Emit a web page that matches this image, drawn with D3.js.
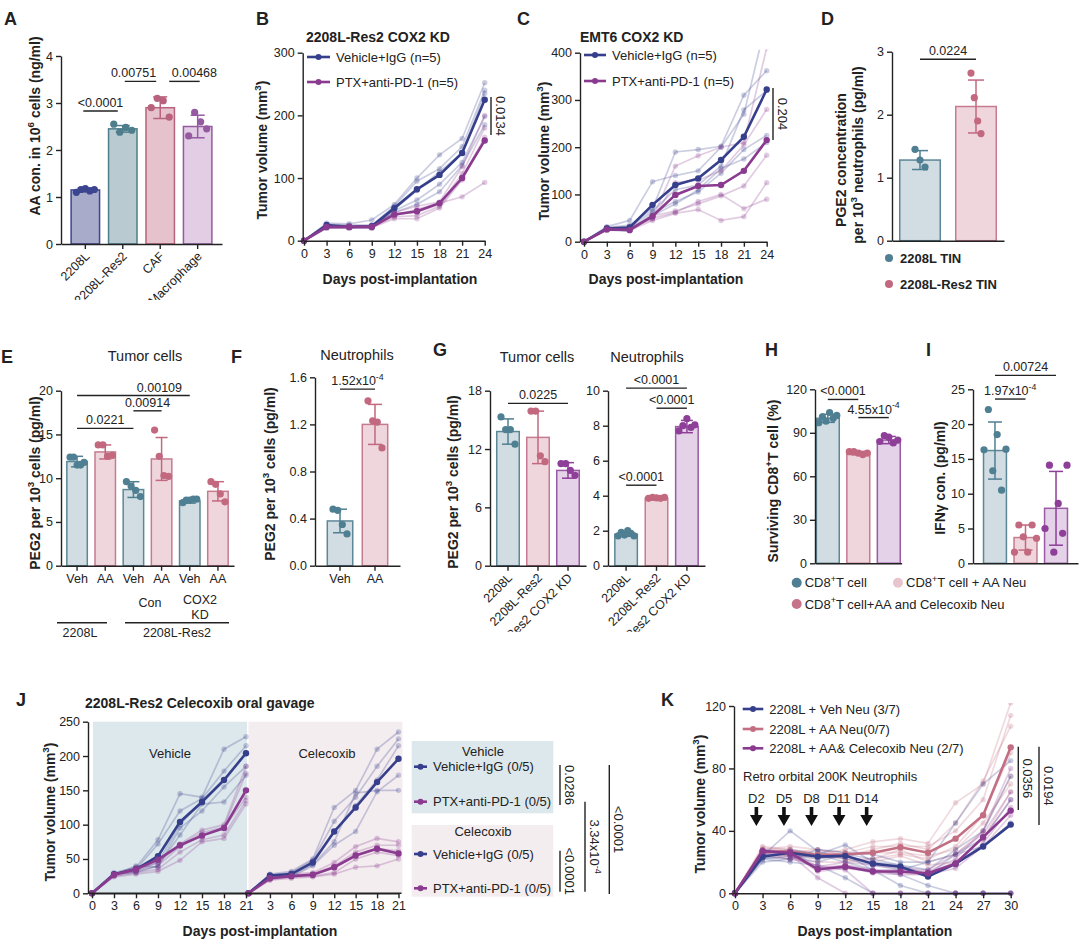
<!DOCTYPE html>
<html>
<head>
<meta charset="utf-8">
<script src="https://cdn.jsdelivr.net/npm/d3@7/dist/d3.min.js"></script>
<style>
  body { margin: 0; background: #fff; }
  svg text { font-family: "Liberation Sans", Arial, sans-serif; fill: #222; }
</style>
</head>
<body>
<svg id="fig" width="1080" height="948"></svg>
<script>
// ---------------- data ----------------
// A
var aCats = ["2208L", "2208L-Res2", "CAF", "Macrophage"];
var aMeans = [1.15, 2.45, 2.9, 2.5];
var aSD = [0.04, 0.07, 0.23, 0.24];
var aPoints = [[1.1, 1.16, 1.18, 1.13, 1.16], [2.55, 2.38, 2.48, 2.42], [2.9, 3.1, 3.05, 2.7], [2.3, 2.8, 2.6, 2.45]];

// B
var days24 = [0, 3, 6, 9, 12, 15, 18, 21, 24];
var bVehMean = [0, 25, 22, 23, 52, 82, 105, 140, 225];
var bPtxMean = [0, 22, 22, 22, 42, 47, 60, 100, 160];
var bVehInd = [
  [0, 28, 27, 33, 58, 100, 137, 163, 252],
  [0, 26, 25, 25, 55, 95, 115, 150, 240],
  [0, 24, 22, 22, 50, 80, 110, 140, 235],
  [0, 22, 20, 20, 48, 65, 90, 125, 198],
  [0, 20, 22, 24, 45, 58, 78, 120, 185]
];
var bPtxInd = [
  [0, 24, 24, 24, 45, 55, 62, 118, 200],
  [0, 22, 22, 20, 42, 45, 58, 107, 180],
  [0, 21, 21, 22, 38, 40, 55, 100, 165],
  [0, 23, 22, 21, 35, 35, 52, 97, 160],
  [0, 20, 20, 22, 40, 50, 60, 70, 93]
];

// C
var cVehMean = [0, 28, 30, 78, 120, 134, 173, 222, 322];
var cPtxMean = [0, 26, 25, 54, 99, 118, 120, 150, 215];
var cVehInd = [
  [0, 32, 45, 127, 140, 150, 200, 270, 470],
  [0, 30, 35, 70, 190, 195, 202, 310, 362],
  [0, 28, 30, 65, 110, 120, 160, 279, 320],
  [0, 26, 25, 60, 85, 105, 145, 195, 225],
  [0, 25, 22, 55, 80, 110, 155, 175, 210]
];
var cPtxInd = [
  [0, 30, 32, 50, 160, 182, 200, 210, 410],
  [0, 28, 28, 48, 125, 130, 150, 205, 280],
  [0, 26, 26, 55, 65, 80, 97, 118, 183],
  [0, 25, 24, 45, 60, 68, 45, 53, 125],
  [0, 27, 28, 50, 62, 85, 100, 70, 90]
];

// D
var dCats = ["2208L TIN", "2208L-Res2 TIN"];
var dMeans = [1.28, 2.13];
var dSD = [0.15, 0.42];
var dPoints = [[1.45, 1.28, 1.17], [2.66, 2.27, 1.9, 1.7]];

// E
var eLabels = ["Veh", "AA", "Veh", "AA", "Veh", "AA"];
var eMeans = [11.9, 13.0, 8.7, 12.2, 7.4, 8.5];
var eSD = [0.6, 0.8, 0.9, 2.45, 0.25, 1.1];
var ePoints = [[12.4, 12.4, 11.5, 11.5, 11.8], [13.8, 13.8, 12.5, 12.6], [9.6, 9.1, 8.6, 7.9], [15.5, 12.5, 10.3, 10.2], [7.2, 7.5, 7.5, 7.6, 7.6], [9.6, 9.3, 8.2, 7.3]];

// F
var fLabels = ["Veh", "AA"];
var fMeans = [0.38, 1.2];
var fSD = [0.1, 0.17];
var fPoints = [[0.48, 0.47, 0.35, 0.27], [1.4, 1.23, 1.22, 1.0]];

// G
var gLabels = ["2208L", "2208L-Res2", "2208L-Res2 COX2 KD"];
var gTumMeans = [13.8, 13.2, 9.8];
var gTumSD = [1.3, 2.7, 0.8];
var gTumPoints = [[15.3, 14.0, 14.0, 12.5], [15.9, 15.9, 11.3, 10.7], [10.5, 10.5, 9.8, 9.3]];
var gNeuMeans = [1.8, 3.85, 7.95];
var gNeuSD = [0.12, 0.05, 0.35];
var gNeuPoints = [[1.7, 1.9, 1.75, 2.0, 1.85, 1.7], [3.85, 3.9, 3.88, 3.85, 3.9], [7.7, 8.0, 8.4, 7.9, 8.05]];

// H, I
var hMeans = [100, 76, 85];
var hSD = [2.8, 1.2, 2.5];
var hPoints = [[97, 101, 98, 104, 100, 102], [77, 77, 76, 75, 76], [84, 88, 87, 83, 85]];
var iMeans = [16.2, 3.7, 7.9];
var iSD = [4.1, 1.8, 5.3];
var iPoints = [[16.3, 22.1, 13.3, 18.5, 10.5, 16.4], [1.6, 5.5, 3.8, 1.6, 5.5, 3.6], [5.0, 14.1, 1.6, 8.6, 4.3, 14.1]];
var hiLegend = ["CD8", "CD8", "CD8"];

// J
var days21 = [0, 3, 6, 9, 12, 15, 18, 21];
var jVehIgGMean = [0, 28, 35, 54, 104, 133, 165, 204];
var jVehPtxMean = [0, 27, 35, 49, 70, 84, 95, 150];
var jCelIgGMean = [0, 26, 28, 45, 90, 125, 162, 196];
var jCelPtxMean = [0, 22, 25, 27, 38, 55, 65, 58];
var jVehIgGInd = [
  [0, 30, 38, 78, 145, 140, 210, 228],
  [0, 28, 35, 72, 120, 138, 178, 215],
  [0, 26, 32, 45, 100, 135, 165, 205],
  [0, 27, 40, 38, 95, 120, 155, 185],
  [0, 29, 30, 40, 85, 130, 133, 172]
];
var jVehPtxInd = [
  [0, 28, 38, 48, 72, 92, 100, 185],
  [0, 26, 35, 45, 70, 88, 97, 175],
  [0, 27, 32, 40, 68, 85, 95, 140],
  [0, 25, 30, 35, 60, 78, 85, 135],
  [0, 24, 28, 32, 48, 75, 80, 130]
];
var jCelIgGInd = [
  [0, 28, 32, 50, 125, 150, 210, 235],
  [0, 26, 30, 48, 105, 140, 185, 225],
  [0, 24, 28, 45, 90, 128, 165, 215],
  [0, 25, 26, 42, 75, 146, 150, 150],
  [0, 23, 24, 40, 70, 90, 148, 172]
];
var jCelPtxInd = [
  [0, 24, 28, 30, 45, 68, 80, 75],
  [0, 22, 26, 28, 40, 60, 70, 70],
  [0, 21, 25, 27, 38, 55, 65, 62],
  [0, 20, 24, 25, 30, 50, 60, 55],
  [0, 19, 22, 24, 28, 38, 40, 50]
];

// K
var days30 = [0, 3, 6, 9, 12, 15, 18, 21, 24, 27, 30];
var kVehMean = [0, 23.5, 26, 23.5, 24, 19, 17, 10.7, 19, 30, 44];
var kAAMean = [0, 26.7, 26.7, 24.5, 25, 26, 29.5, 26, 35, 50, 93.5];
var kCelMean = [0, 27, 26, 15.4, 17, 14, 14, 12.8, 19, 36, 53];
var kVehInd = [
  [0, 24, 40, 27, 22, 18, 15, 20, 45, 70, 85],
  [0, 22, 24, 20, 25, 22, 18, 12, 25, 35, 60],
  [0, 20, 22, 25, 20, 15, 5, 0, 0, 0, 0],
  [0, 25, 28, 25, 31, 20, 18, 15, 28, 40, 75],
  [0, 22, 20, 18, 10, 0, 0, 0, 0, 0, 0],
  [0, 28, 25, 22, 25, 15, 12, 5, 0, 0, 0],
  [0, 23, 22, 28, 26, 25, 20, 20, 25, 30, 45]
];
var kAAInd = [
  [0, 30, 28, 25, 28, 33, 35, 32, 58, 70, 122],
  [0, 28, 30, 28, 26, 30, 30, 30, 40, 60, 114],
  [0, 25, 24, 22, 24, 28, 32, 28, 45, 72, 107],
  [0, 26, 24, 24, 22, 22, 25, 22, 30, 50, 90],
  [0, 24, 22, 20, 20, 22, 28, 20, 25, 40, 75],
  [0, 27, 26, 28, 24, 26, 26, 24, 28, 45, 70],
  [0, 29, 28, 26, 22, 20, 24, 18, 20, 35, 65]
];
var kCelInd = [
  [0, 27, 25, 10, 0, 0, 0, 0, 0, 0, 0],
  [0, 25, 22, 18, 15, 0, 0, 0, 0, 0, 0],
  [0, 26, 25, 15, 18, 15, 15, 14, 22, 40, 80],
  [0, 28, 27, 17, 20, 18, 16, 15, 25, 38, 65],
  [0, 24, 26, 14, 16, 14, 13, 12, 18, 32, 55],
  [0, 25, 24, 16, 18, 14, 14, 13, 20, 35, 60],
  [0, 27, 26, 15, 17, 13, 12, 12, 16, 30, 50]
];
var kDoseDays = [2, 5, 8, 11, 14];

// ---------------- colours ----------------
var INK = "#222";
var NAVY = "#363f8b", PLUM = "#8a3b8f", ROSE = "#c36f83";
var TEAL = { fill: "#d1dde2", stroke: "#5c8797", dot: "#4f7f92" };
var PINK = { fill: "#efd6dd", stroke: "#c67b90", dot: "#c2687f" };
var PURP = { fill: "#e4d2e8", stroke: "#9c5aa6", dot: "#8e3f98" };

var svg = d3.select("#fig");

// ---------------- helpers ----------------
function rich(t, parts, fs) {
  var shift = 0;
  parts.forEach(function (p) {
    var s = p[1] ? -fs * 0.42 : 0;
    t.append("tspan").attr("dy", s - shift).attr("font-size", p[1] ? fs * 0.7 : fs).text(p[0]);
    shift = s;
  });
  return t;
}

function txt(x, y, parts, fs, opt) {
  opt = opt || {};
  var t = svg.append("text").attr("x", x).attr("y", y).attr("font-size", fs)
    .attr("text-anchor", opt.anchor || "middle")
    .attr("font-weight", opt.bold ? "bold" : null);
  if (opt.rot) t.attr("transform", "rotate(" + opt.rot + "," + x + "," + y + ")");
  if (typeof parts === "string") t.text(parts); else rich(t, parts, fs);
  return t;
}

function styleAxis(g, fs) {
  g.selectAll(".domain, .tick line").attr("stroke", INK).attr("stroke-width", 1.4);
  g.selectAll(".tick text").attr("font-size", fs || 12.5);
  return g;
}

function hBracket(x1, x2, yy, label, tdx) {
  svg.append("line").attr("x1", x1).attr("x2", x2).attr("y1", yy).attr("y2", yy)
    .attr("stroke", INK).attr("stroke-width", 1.4);
  txt((x1 + x2) / 2 + (tdx || 0), yy - 4, label, 12.5);
}

function vBracket(xx, y1, y2, label) {
  svg.append("line").attr("x1", xx).attr("x2", xx).attr("y1", y1).attr("y2", y2)
    .attr("stroke", INK).attr("stroke-width", 1.4);
  txt(xx + 5, (y1 + y2) / 2, label, 13, { rot: 90 });
}

function legendLine(x1, x2, yy, color, label) {
  svg.append("line").attr("x1", x1).attr("x2", x2).attr("y1", yy).attr("y2", yy)
    .attr("stroke", color).attr("stroke-width", 2.6);
  svg.append("circle").attr("cx", (x1 + x2) / 2).attr("cy", yy).attr("r", 3).attr("fill", color);
  txt(x2 + 6, yy + 4.5, label, 13, { anchor: "start" });
}

function barPanel(o) {
  var idx = d3.range(o.means.length);
  var x = d3.scaleBand().domain(idx).range(o.xr).paddingInner(o.pi).paddingOuter(o.po);
  var y = d3.scaleLinear().domain(o.yd).range(o.yr);
  var bw = x.bandwidth();
  var cx = function (i) { return x(i) + bw / 2; };
  var g = svg.append("g");

  g.selectAll(null).data(o.means).enter().append("rect")
    .attr("x", function (d, i) { return x(i) + 0.75; })
    .attr("width", bw - 1.5)
    .attr("y", function (d) { return y(d); })
    .attr("height", function (d) { return y(0) - y(d); })
    .attr("fill", function (d, i) { return o.col[i].fill; })
    .attr("stroke", function (d, i) { return o.col[i].stroke; })
    .attr("stroke-width", 1.5);

  o.pts.forEach(function (arr, i) {
    var n = arr.length;
    g.selectAll(null).data(arr).enter().append("circle")
      .attr("cx", function (d, k) { return cx(i) + (n > 1 ? (k - (n - 1) / 2) / ((n - 1) / 2) * o.jit : 0); })
      .attr("cy", function (d) { return y(d); })
      .attr("r", 3.6)
      .attr("fill", o.col[i].dot);
  });

  o.means.forEach(function (m, i) {
    var c = o.col[i].dot, w = o.cap || 6, s = o.sd[i];
    g.append("line").attr("x1", cx(i)).attr("x2", cx(i)).attr("y1", y(m - s)).attr("y2", y(m + s))
      .attr("stroke", c).attr("stroke-width", 1.5);
    [m - s, m + s].forEach(function (v) {
      g.append("line").attr("x1", cx(i) - w).attr("x2", cx(i) + w).attr("y1", y(v)).attr("y2", y(v))
        .attr("stroke", c).attr("stroke-width", 1.5);
    });
  });

  var ya = g.append("g").attr("transform", "translate(" + o.xr[0] + ",0)")
    .call(d3.axisLeft(y).tickValues(o.ticks).tickSize(5).tickSizeOuter(0).tickFormat(o.fmt || d3.format("d")));
  styleAxis(ya);
  var xa = g.append("g").attr("transform", "translate(0," + o.yr[0] + ")")
    .call(d3.axisBottom(x).tickSize(o.labels ? 5 : 0).tickSizeOuter(0)
      .tickFormat(function (i) { return o.labels ? o.labels[i] : ""; }));
  styleAxis(xa);
  if (o.rotate) {
    xa.selectAll(".tick text").attr("y", 0).attr("dy", 0)
      .attr("transform", "translate(5,13) rotate(-45)").attr("text-anchor", "end");
    if (o.clip) {
      // clip box is in the axis group's own (translated) coordinates
      svg.append("clipPath").attr("id", o.clip.id).append("rect")
        .attr("x", o.clip.x).attr("y", -2).attr("width", 400).attr("height", o.clip.h + 2);
      xa.attr("clip-path", "url(#" + o.clip.id + ")");
    }
  }
  (o.br || []).forEach(function (b) {
    hBracket(cx(b[0]) + (b[4] || 0), cx(b[1]) + (b[5] || 0), y(b[2]), b[3], b[6]);
  });
  return { x: x, y: y, cx: cx };
}

function drawSeries(g, x, y, days, groups) {
  var line = d3.line().x(function (d, i) { return x(days[i]); }).y(function (d) { return y(d); });
  groups.forEach(function (gr) {
    gr.ind.forEach(function (s) {
      g.append("path").attr("d", line(s)).attr("fill", "none").attr("stroke", gr.color)
        .attr("stroke-opacity", 0.26).attr("stroke-width", 1.7);
      g.selectAll(null).data(s).enter().append("circle")
        .attr("cx", function (d, i) { return x(days[i]); }).attr("cy", function (d) { return y(d); })
        .attr("r", 2.7).attr("fill", gr.color).attr("fill-opacity", 0.26);
    });
  });
  groups.forEach(function (gr) {
    g.append("path").attr("d", line(gr.mean)).attr("fill", "none").attr("stroke", gr.color).attr("stroke-width", 2.6);
    g.selectAll(null).data(gr.mean).enter().append("circle")
      .attr("cx", function (d, i) { return x(days[i]); }).attr("cy", function (d) { return y(d); })
      .attr("r", 3.2).attr("fill", gr.color);
  });
}

function linePanel(o) {
  var x = d3.scaleLinear().domain(o.xd).range(o.xr);
  var y = d3.scaleLinear().domain(o.yd).range(o.yr);
  svg.append("clipPath").attr("id", o.id).append("rect")
    .attr("x", o.xr[0] - 6).attr("y", o.yr[1] - 3).attr("width", o.xr[1] - o.xr[0] + 12).attr("height", o.yr[0] - o.yr[1] + 9);
  var plot = svg.append("g").attr("clip-path", "url(#" + o.id + ")");
  drawSeries(plot, x, y, o.days, o.groups);
  var ya = svg.append("g").attr("transform", "translate(" + o.yax + ",0)")
    .call(d3.axisLeft(y).tickValues(o.yticks).tickSize(5).tickSizeOuter(0));
  styleAxis(ya);
  var xa = svg.append("g").attr("transform", "translate(0," + o.yr[0] + ")")
    .call(d3.axisBottom(x).tickValues(o.days).tickSize(5).tickSizeOuter(0));
  styleAxis(xa);
  return { x: x, y: y };
}

// ---------------- panel letters ----------------
[["A", 4, 25], ["B", 256, 25], ["C", 517, 25], ["D", 821, 25],
 ["E", 1, 363], ["F", 231, 363], ["G", 433, 356], ["H", 765, 356], ["I", 926, 356],
 ["J", 16, 706], ["K", 661, 706]].forEach(function (l) {
  txt(l[1], l[2], l[0], 18, { anchor: "start", bold: true });
});

// ---------------- A ----------------
barPanel({
  means: aMeans, sd: aSD, pts: aPoints, labels: aCats, rotate: true,
  clip: { id: "clipA", x: 60, h: 56 },
  xr: [61, 222], pi: 0.2, po: 0.25, yd: [0, 4], yr: [244, 56], ticks: [0, 1, 2, 3, 4], jit: 9, cap: 7,
  col: [{ fill: "#a9abcb", stroke: "#3c4590", dot: "#3c4590" },
        { fill: "#b9cbd1", stroke: "#4e7d8c", dot: "#4e7d8c" },
        { fill: "#e6c3cc", stroke: "#b8627d", dot: "#b8627d" },
        { fill: "#e3cde5", stroke: "#955aa0", dot: "#955aa0" }],
  br: [[0, 1, 2.83, "<0.0001", -2, -5, 0], [1, 2, 3.46, "0.00751", 2, -4, -7], [2, 3, 3.46, "0.00468", 9, 2, 10]]
});
txt(40, 126, [["AA con. in 10"], ["6", 1], [" cells (ng/ml)"]], 14, { rot: -90, bold: true });

// ---------------- B ----------------
linePanel({
  id: "clipB", xd: [0, 24], xr: [304, 484.7], yd: [0, 300], yr: [240.7, 52.7], yax: 302.7,
  yticks: [0, 100, 200, 300], days: days24,
  groups: [{ color: NAVY, mean: bVehMean, ind: bVehInd }, { color: PLUM, mean: bPtxMean, ind: bPtxInd }]
});
txt(378, 42, "2208L-Res2 COX2 KD", 14, { bold: true });
legendLine(307, 330, 57, NAVY, "Vehicle+IgG (n=5)");
legendLine(307, 330, 82, PLUM, "PTX+anti-PD-1 (n=5)");
vBracket(491, 97, 135, "0.0134");
txt(267, 150, [["Tumor volume (mm"], ["3", 1], [")"]], 14, { rot: -90, bold: true });
txt(400, 284, "Days post-implantation", 14, { bold: true });

// ---------------- C ----------------
linePanel({
  id: "clipC", xd: [0, 24], xr: [584, 766.7], yd: [0, 400], yr: [241.7, 52.7], yax: 580,
  yticks: [0, 100, 200, 300, 400], days: days24,
  groups: [{ color: NAVY, mean: cVehMean, ind: cVehInd }, { color: PLUM, mean: cPtxMean, ind: cPtxInd }]
});
txt(580, 42, "EMT6 COX2 KD", 14, { bold: true, anchor: "start" });
legendLine(584, 606, 55, NAVY, "Vehicle+IgG (n=5)");
legendLine(584, 606, 81, PLUM, "PTX+anti-PD-1 (n=5)");
vBracket(773, 88, 140, "0.204");
txt(549, 151, [["Tumor volume (mm"], ["3", 1], [")"]], 14, { rot: -90, bold: true });
txt(666, 284, "Days post-implantation", 14, { bold: true });

// ---------------- D ----------------
barPanel({
  means: dMeans, sd: dSD, pts: dPoints,
  xr: [892, 1004], pi: 0.25, po: 0.125, yd: [0, 3], yr: [240.7, 51.7], ticks: [0, 1, 2, 3], jit: 5, cap: 8,
  col: [TEAL, PINK], br: [[0, 1, 2.88, "0.0224"]]
});
txt(846, 160, "PGE2 concentration", 14, { rot: -90, bold: true });
txt(863, 155, [["per 10"], ["3", 1], [" neutrophils (pg/ml)"]], 14, { rot: -90, bold: true });
[[dCats[0], TEAL.dot, 258], [dCats[1], PINK.dot, 284]].forEach(function (l) {
  svg.append("circle").attr("cx", 889).attr("cy", l[2]).attr("r", 4).attr("fill", l[1]);
  txt(900, l[2] + 5, l[0], 13, { anchor: "start", bold: true });
});

// ---------------- E ----------------
barPanel({
  means: eMeans, sd: eSD, pts: ePoints, labels: eLabels,
  xr: [61, 234], pi: 0.22, po: 0.18, yd: [0, 20], yr: [565.7, 390.7], ticks: [0, 5, 10, 15, 20], jit: 7, cap: 6,
  col: [TEAL, PINK, TEAL, PINK, TEAL, PINK],
  br: [[0, 2, 15.7, "0.0221"], [2, 3, 17.7, "0.00914"], [0, 4, 19.45, "0.00109", 0, 0, 26]]
});
txt(145, 361, "Tumor cells", 14.5);
txt(150, 607, "Con", 12.5);
txt(200, 604, "COX2", 12.5);
txt(200, 619, "KD", 12.5);
[[57, 107, 80, "2208L"], [125, 229, 177, "2208L-Res2"]].forEach(function (l) {
  svg.append("line").attr("x1", l[0]).attr("x2", l[1]).attr("y1", 622.7).attr("y2", 622.7)
    .attr("stroke", INK).attr("stroke-width", 1.4);
  txt(l[2], 637, l[3], 12.5);
});
txt(40, 483, [["PEG2 per 10"], ["3", 1], [" cells (pg/ml)"]], 14, { rot: -90, bold: true });

// ---------------- F ----------------
barPanel({
  means: fMeans, sd: fSD, pts: fPoints, labels: fLabels,
  xr: [315, 400], pi: 0.23, po: 0.33, yd: [0, 1.6], yr: [565.7, 377.3], ticks: [0, 0.4, 0.8, 1.2, 1.6],
  fmt: d3.format(".1f"), jit: 7, cap: 7, col: [TEAL, PINK],
  br: [[0, 1, 1.5, [["1.52x10"], ["-4", 1]]]]
});
txt(357, 360, "Neutrophils", 14.5);
txt(275, 474, [["PEG2 per 10"], ["3", 1], [" cells (pg/ml)"]], 14, { rot: -90, bold: true });

// ---------------- G ----------------
barPanel({
  means: gTumMeans, sd: gTumSD, pts: gTumPoints, labels: gLabels, rotate: true,
  clip: { id: "clipG1", x: 436, h: 66 },
  xr: [490, 586], pi: 0.2, po: 0.2, yd: [0, 18], yr: [565.7, 390.7], ticks: [0, 6, 12, 18], jit: 7, cap: 6,
  col: [TEAL, PINK, PURP], br: [[0, 2, 16.7, "0.0225"]]
});
barPanel({
  means: gNeuMeans, sd: gNeuSD, pts: gNeuPoints, labels: gLabels, rotate: true,
  clip: { id: "clipG2", x: 556, h: 66 },
  xr: [608, 705], pi: 0.21, po: 0.2, yd: [0, 10], yr: [565.7, 390.7], ticks: [0, 2, 4, 6, 8, 10], jit: 8, cap: 6,
  col: [TEAL, PINK, PURP],
  br: [[0, 1, 4.6, "<0.0001"], [1, 2, 9.0, "<0.0001"], [0, 2, 10.15, "<0.0001"]]
});
txt(537, 362, "Tumor cells", 14.5);
txt(647, 362, "Neutrophils", 14.5);
txt(458, 482, [["PEG2 per 10"], ["3", 1], [" cells (pg/ml)"]], 14, { rot: -90, bold: true });

// ---------------- H ----------------
barPanel({
  means: hMeans, sd: hSD, pts: hPoints,
  xr: [815, 901.6], pi: 0.2, po: 0.02, yd: [0, 120], yr: [563.3, 389.3], ticks: [0, 30, 60, 90, 120], jit: 9, cap: 7,
  col: [TEAL, PINK, PURP],
  br: [[0, 1, 113, "<0.0001"], [1, 2, 100.5, [["4.55x10"], ["-4", 1]]]]
});
txt(778, 481, [["Surviving CD8"], ["+", 1], ["T cell (%)"]], 14, { rot: -90, bold: true });

// ---------------- I ----------------
barPanel({
  means: iMeans, sd: iSD, pts: iPoints,
  xr: [973, 1078], pi: 0.2, po: 0.32, yd: [0, 25], yr: [563.3, 389.3], ticks: [0, 5, 10, 15, 20, 25], jit: 11, cap: 7,
  col: [TEAL, PINK, PURP],
  br: [[0, 1, 23.6, [["1.97x10"], ["-4", 1]]], [0, 2, 27, "0.00724"]]
});
txt(945, 478, "IFN\u03b3 con. (pg/ml)", 14, { rot: -90, bold: true });

// H / I legend
[[796.7, 582.7, "#4f7f92", [[hiLegend[0]], ["+", 1], ["T cell"]]],
 [898, 582.7, "#e8c4cd", [[hiLegend[1]], ["+", 1], ["T cell + AA Neu"]]],
 [796.7, 604, "#c5738a", [[hiLegend[2]], ["+", 1], ["T cell+AA and Celecoxib Neu"]]]].forEach(function (l) {
  svg.append("circle").attr("cx", l[0]).attr("cy", l[1]).attr("r", 5).attr("fill", l[2]);
  txt(l[0] + 8, l[1] + 4.5, l[3], 13, { anchor: "start" });
});

// ---------------- J ----------------
var jy = d3.scaleLinear().domain([0, 250]).range([893.3, 721.7]);
var jxV = d3.scaleLinear().domain([0, 21]).range([92, 246]);
var jxC = d3.scaleLinear().domain([0, 21]).range([248.5, 398.5]);
svg.append("rect").attr("x", jxV(0) + 1).attr("y", jy(250)).attr("width", jxV(21) - jxV(0))
  .attr("height", jy(0) - jy(250)).attr("fill", "#dde8ec");
svg.append("rect").attr("x", jxC(0)).attr("y", jy(250)).attr("width", jxC(21) - jxC(0) + 4)
  .attr("height", jy(0) - jy(250)).attr("fill", "#f4edf0");
txt(170, 758, "Vehicle", 13);
txt(327, 758, "Celecoxib", 13);
var jg = svg.append("g");
drawSeries(jg, jxV, jy, days21, [{ color: NAVY, mean: jVehIgGMean, ind: jVehIgGInd }, { color: PLUM, mean: jVehPtxMean, ind: jVehPtxInd }]);
drawSeries(jg, jxC, jy, days21, [{ color: NAVY, mean: jCelIgGMean, ind: jCelIgGInd }, { color: PLUM, mean: jCelPtxMean, ind: jCelPtxInd }]);
styleAxis(svg.append("g").attr("transform", "translate(88,0)")
  .call(d3.axisLeft(jy).tickValues([0, 50, 100, 150, 200, 250]).tickSize(5).tickSizeOuter(0)));
var jxa1 = svg.append("g").attr("transform", "translate(0," + jy(0) + ")")
  .call(d3.axisBottom(jxV).tickValues(days21).tickSize(5).tickSizeOuter(0));
var jxa2 = svg.append("g").attr("transform", "translate(0," + jy(0) + ")")
  .call(d3.axisBottom(jxC).tickValues(days21.slice(1)).tickSize(5).tickSizeOuter(0));
styleAxis(jxa1); styleAxis(jxa2);
svg.append("line").attr("x1", 88).attr("x2", jxC(21) + 3).attr("y1", jy(0)).attr("y2", jy(0))
  .attr("stroke", INK).attr("stroke-width", 1.4);
txt(85, 708, "2208L-Res2 Celecoxib oral gavage", 14, { bold: true, anchor: "start" });
txt(55, 812, [["Tumor volume (mm"], ["3", 1], [")"]], 14, { rot: -90, bold: true });
txt(260, 936, "Days post-implantation", 14, { bold: true });

// J legend boxes
svg.append("rect").attr("x", 411.7).attr("y", 741).attr("width", 141.6).attr("height", 72.3).attr("fill", "#dde8ec");
svg.append("rect").attr("x", 411.7).attr("y", 825).attr("width", 141.6).attr("height", 71.7).attr("fill", "#f4edf0");
txt(483, 756, "Vehicle", 13);
txt(483, 836, "Celecoxib", 13);
legendLine(414, 427, 766.7, NAVY, "Vehicle+IgG (0/5)");
legendLine(414, 427, 801.7, PLUM, "PTX+anti-PD-1 (0/5)");
legendLine(414, 427, 854, NAVY, "Vehicle+IgG (0/5)");
legendLine(414, 427, 888.3, PLUM, "PTX+anti-PD-1 (0/5)");
vBracket(560, 765, 805, "0.0286");
vBracket(560, 850.7, 891.7, "<0.0001");
vBracket(585, 801.7, 891.7, [["3.34x10"], ["-4", 1]]);
vBracket(609.3, 765, 894, "<0.0001");

// ---------------- K ----------------
var kp = linePanel({
  id: "clipK", xd: [0, 30], xr: [735, 1010.7], yd: [0, 120], yr: [893.3, 706], yax: 734,
  yticks: [0, 40, 80, 120], days: days30,
  groups: [{ color: ROSE, mean: kAAMean, ind: kAAInd },
           { color: NAVY, mean: kVehMean, ind: kVehInd },
           { color: PLUM, mean: kCelMean, ind: kCelInd }]
});
legendLine(742.7, 763.3, 709, NAVY, "2208L + Veh Neu (3/7)");
legendLine(742.7, 763.3, 729, ROSE, "2208L + AA Neu(0/7)");
legendLine(742.7, 763.3, 748.3, PLUM, "2208L + AA& Celecoxib Neu (2/7)");
txt(743, 781, "Retro orbital 200K Neutrophils", 13, { anchor: "start" });
kDoseDays.forEach(function (d) {
  var ax = kp.x(d) + 3;
  txt(ax, 803, "D" + d, 13);
  svg.append("path")
    .attr("d", "M" + (ax - 1.8) + ",807 h3.6 v8 h4.6 l-6.4,11 l-6.4,-11 h4.6 z")
    .attr("fill", "#111");
});
vBracket(1018.3, 746.7, 810, "0.0356");
vBracket(1039, 746.7, 825, "0.0194");
txt(705, 804, [["Tumor volume (mm"], ["3", 1], [")"]], 14, { rot: -90, bold: true });
txt(875, 936, "Days post-implantation", 14, { bold: true });
</script>
</body>
</html>
